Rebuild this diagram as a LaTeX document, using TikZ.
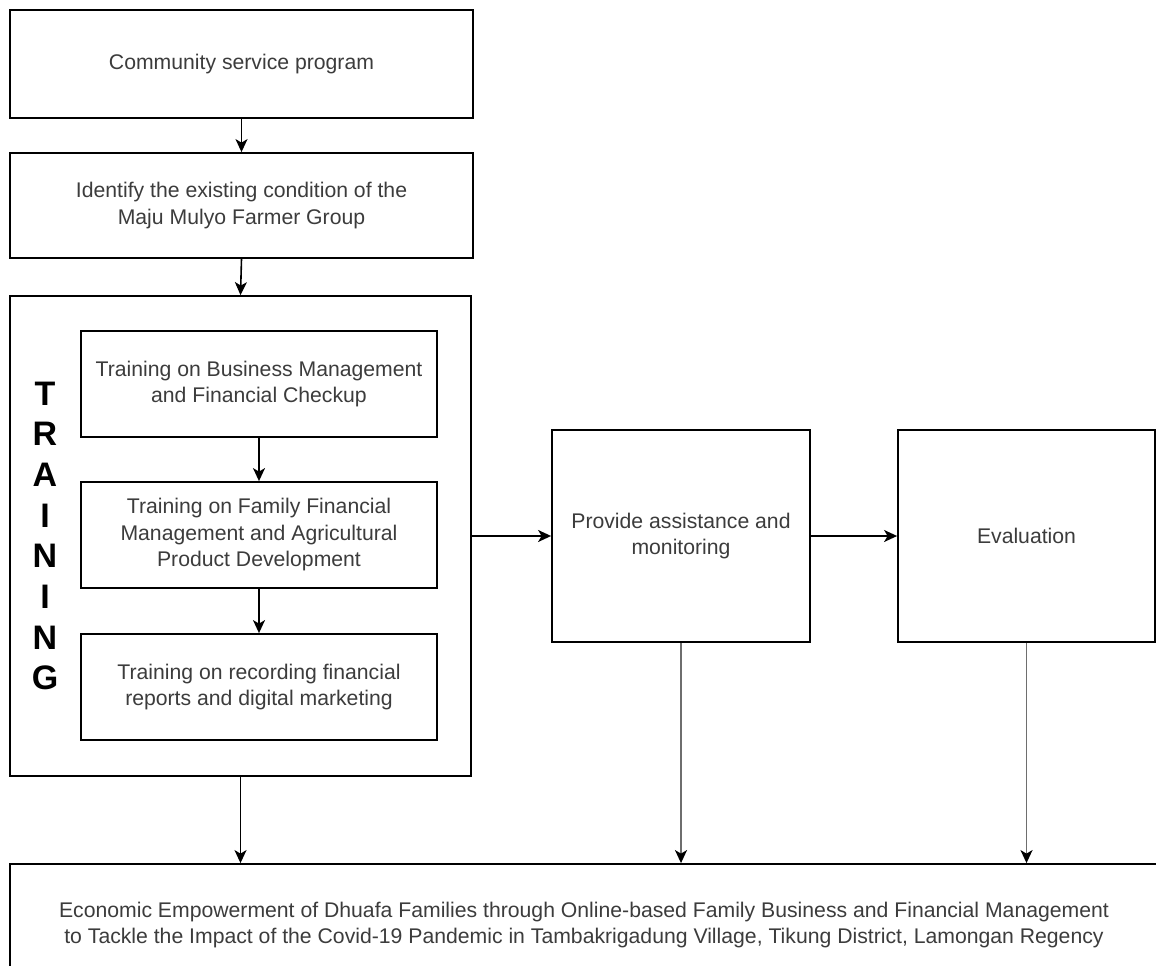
\documentclass[tikz,border=0pt]{standalone}
\usepackage{fontspec}
\setmainfont{Liberation Sans}
\usetikzlibrary{arrows.meta}
\definecolor{txt}{RGB}{60,60,60}
\definecolor{gline}{RGB}{110,110,110}
\begin{document}
\begin{tikzpicture}[x=1pt,y=1pt,
  box/.style={draw=black,line width=1.8pt,rectangle,inner sep=0pt,align=center,
    text=txt,font=\fontsize{21.2}{26.5}\selectfont},
  arr/.style={line width=1.6pt,-{Stealth[length=13pt,width=12pt,inset=3.5pt]}},
  garr/.style={line width=1.8pt,draw=gline,-{Stealth[length=13pt,width=12pt,inset=3.5pt,fill=black,color=black]}}]
\useasboundingbox (0,0) rectangle (1156,-966);
\clip (0,0) rectangle (1156,-966);
\fill[white] (0,0) rectangle (1156,-966);
\node[box,minimum width=463,minimum height=108] (n1) at (241.5,-64) {Community service program};
\node[box,minimum width=463,minimum height=105] (n2) at (241.5,-205.5) {Identify the existing condition of the\\Maju Mulyo Farmer Group};
\node[box,minimum width=461,minimum height=480] (train) at (240.5,-536) {};
\node[align=center,font=\fontsize{34}{40.7}\selectfont\bfseries,text=black,inner sep=0pt] (tl) at (45,-536) {T\\R\\A\\I\\N\\I\\N\\G};
\node[box,minimum width=356,minimum height=106] (t1) at (259,-384) {Training on Business Management\\and Financial Checkup};
\node[box,minimum width=356,minimum height=106] (t2) at (259,-535) {Training on Family Financial\\Management and Agricultural\\Product Development};
\node[box,minimum width=356,minimum height=106] (t3) at (259,-687) {Training on recording financial\\reports and digital marketing};
\node[box,minimum width=258,minimum height=212] (prov) at (681,-536) {Provide assistance and\\monitoring};
\node[box,minimum width=257,minimum height=212] (eval) at (1026.5,-536) {Evaluation};
\node[box,minimum width=1148,minimum height=122] (out) at (584,-925) {Economic Empowerment of Dhuafa Families through Online-based Family Business and Financial Management\\to Tackle the Impact of the Covid-19 Pandemic in Tambakrigadung Village, Tikung District, Lamongan Regency};
\draw[arr] (n1.south) -- (n2.north);
\draw[arr] (n2.south) -- (train.north);
\draw[arr] (t1.south) -- (t2.north);
\draw[arr] (t2.south) -- (t3.north);
\draw[arr] (train.east) -- (prov.west);
\draw[arr] (prov.east) -- (eval.west);
\draw[arr] (train.south) -- (train.south |- out.north);
\draw[garr] (prov.south) -- (prov.south |- out.north);
\draw[garr] (eval.south) -- (eval.south |- out.north);
\end{tikzpicture}
\end{document}
